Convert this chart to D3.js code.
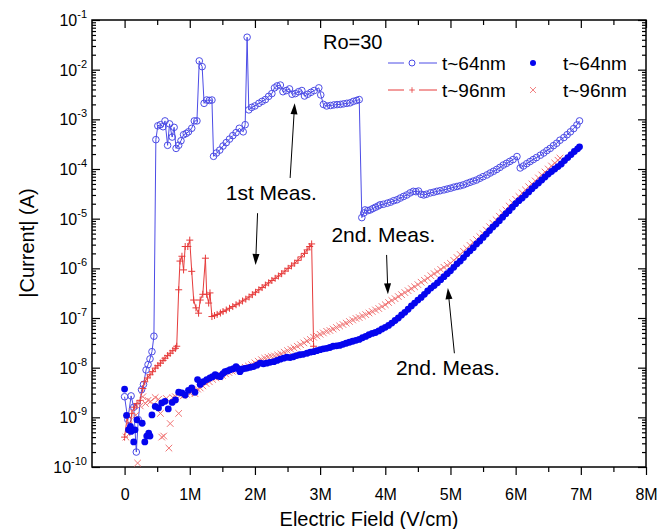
<!DOCTYPE html>
<html>
<head>
<meta charset="utf-8">
<script src="https://cdn.jsdelivr.net/npm/d3@7"></script>
<style>
body{margin:0;background:#fff;}
svg{display:block;font-family:"Liberation Sans",Arial,sans-serif;}
</style>
</head>
<body>
<svg id="chart" width="667" height="529"></svg>
<script>
// field in MV/cm (labelled "1M" etc), current in A
const fieldTicks = [0, 1, 2, 3, 4, 5, 6, 7, 8];
const fieldMinor = [0.5, 1.5, 2.5, 3.5, 4.5, 5.5, 6.5, 7.5];
const fieldLabels = ["0", "1M", "2M", "3M", "4M", "5M", "6M", "7M", "8M"];
const currentTicks = [1e-10, 1e-9, 1e-8, 1e-7, 1e-6, 1e-5, 1e-4, 1e-3, 1e-2, 1e-1];
const currentExps = ["-10", "-9", "-8", "-7", "-6", "-5", "-4", "-3", "-2", "-1"];

// t~64nm, 1st measurement (open circles + line)
const t64First = [
  [0.00,2.6e-9],[0.05,9e-10],[0.10,2.7e-9],[0.14,1.6e-9],[0.18,2.0e-10],[0.21,9e-10],[0.26,3.6e-9],
  [0.29,4.6e-9],[0.33,9e-9],[0.36,1.15e-8],[0.39,1.5e-8],[0.42,2.1e-8],[0.45,4.3e-8],
  [0.48,3.9e-4],[0.51,7.4e-4],[0.55,7.8e-4],[0.59,7.1e-4],[0.62,9.3e-4],[0.66,3.0e-4],[0.69,8.1e-4],
  [0.73,4.4e-4],[0.76,6.9e-4],[0.79,2.6e-4],[0.83,3.0e-4],[0.865,3.7e-4],[0.905,4.9e-4],[0.946,5.2e-4],
  [0.98,5.6e-4],[1.03,6.6e-4],[1.07,9.3e-4],[1.11,9.3e-4],[1.146,1.5e-2],[1.19,1.15e-2],[1.22,2.1e-3],
  [1.26,2.45e-3],[1.30,2.4e-3],[1.34,2.45e-3],[1.365,1.8e-4],[1.41,2.1e-4],[1.46,2.4e-4],[1.51,2.9e-4],
  [1.56,3.4e-4],[1.61,4.0e-4],[1.66,4.7e-4],[1.71,5.4e-4],[1.76,6.6e-4],[1.82,5.6e-4],[1.85,7.8e-4],
  [1.88,4.5e-2],[1.906,1.55e-3],[1.95,1.74e-3],[2.00,1.86e-3],[2.06,2.1e-3],[2.11,2.3e-3],[2.16,2.5e-3],
  [2.21,2.9e-3],[2.26,3.3e-3],[2.30,4.3e-3],[2.34,4.7e-3],[2.39,4.9e-3],[2.43,3.6e-3],[2.48,3.8e-3],
  [2.53,4.1e-3],[2.57,3.2e-3],[2.62,3.3e-3],[2.67,3.6e-3],[2.72,3.8e-3],[2.76,2.95e-3],[2.81,3.2e-3],
  [2.86,3.5e-3],[2.91,3.8e-3],[2.98,4.3e-3],[3.01,3.1e-3],[3.05,2.0e-3],[3.10,1.86e-3],[3.16,1.9e-3],
  [3.21,1.95e-3],[3.26,1.98e-3],[3.31,2.0e-3],[3.36,2.05e-3],[3.41,2.1e-3],[3.46,2.15e-3],[3.51,2.3e-3],
  [3.56,2.4e-3],[3.60,2.5e-3],
  [3.64,1.05e-5],[3.67,1.3e-5],[3.69,1.5e-5],[3.73,1.45e-5],[3.77,1.5e-5],[3.81,1.6e-5],[3.85,1.7e-5],
  [3.89,1.8e-5],[3.92,1.9e-5],[3.97,1.95e-5],[4.03,2.05e-5],[4.08,2.15e-5],[4.13,2.3e-5],[4.18,2.4e-5],
  [4.23,2.6e-5],[4.28,2.8e-5],[4.33,3.0e-5],[4.38,3.3e-5],[4.43,3.55e-5],[4.47,3.5e-5],[4.51,3.6e-5],
  [4.55,3.1e-5],[4.59,3.0e-5],[4.63,3.1e-5],[4.69,3.3e-5],[4.74,3.4e-5],[4.79,3.55e-5],[4.84,3.65e-5],
  [4.90,3.8e-5],[4.95,3.95e-5],[5.00,4.1e-5],[5.05,4.3e-5],[5.10,4.45e-5],[5.15,4.6e-5],[5.20,4.8e-5],
  [5.25,5.1e-5],[5.30,5.4e-5],[5.35,5.7e-5],[5.40,6.0e-5],[5.45,6.5e-5],[5.50,7.0e-5],[5.56,7.6e-5],
  [5.61,8.3e-5],[5.66,9.0e-5],[5.71,9.8e-5],[5.76,1.08e-4],[5.81,1.2e-4],[5.86,1.3e-4],[5.91,1.42e-4],
  [5.96,1.55e-4],[6.02,1.78e-4],
  [6.07,1.05e-4],[6.12,1.15e-4],[6.17,1.28e-4],[6.22,1.41e-4],[6.27,1.55e-4],[6.32,1.7e-4],[6.38,1.9e-4],
  [6.43,2.1e-4],[6.48,2.35e-4],[6.53,2.6e-4],[6.58,2.95e-4],[6.63,3.3e-4],[6.68,3.8e-4],[6.74,4.3e-4],
  [6.79,4.9e-4],[6.84,5.6e-4],[6.89,6.5e-4],[6.94,7.7e-4],[6.98,9.3e-4]
];

// t~96nm, 1st measurement (plus + line)
const t96First = [
  [0.00,4e-10],[0.04,1.0e-9],[0.08,5e-10],[0.11,1.2e-9],[0.15,1.6e-9],[0.19,1.9e-9],[0.24,2.2e-9],
  [0.28,3.8e-9],[0.31,5.2e-9],[0.35,6.2e-9],[0.39,7.2e-9],[0.43,8.3e-9],[0.47,9.8e-9],[0.51,1.1e-8],
  [0.55,1.23e-8],[0.59,1.4e-8],[0.62,1.55e-8],[0.66,1.75e-8],[0.70,1.95e-8],[0.74,2.2e-8],[0.78,2.45e-8],
  [0.80,2.7e-8],
  [0.83,3.7e-7],[0.85,1.4e-6],[0.88,1.75e-6],[0.905,9.3e-7],[0.93,2.75e-6],[0.97,2.75e-6],[1.00,3.7e-6],
  [1.03,8.7e-7],[1.06,2.3e-7],[1.095,1.6e-7],[1.135,1.25e-7],[1.16,2.3e-7],[1.20,3.0e-7],[1.24,1.6e-6],
  [1.26,3.0e-7],[1.29,2.0e-7],[1.31,3.2e-7],[1.34,1.07e-7],
  [1.38,1.12e-7],[1.42,1.18e-7],[1.47,1.26e-7],[1.51,1.35e-7],[1.56,1.45e-7],[1.61,1.57e-7],[1.66,1.7e-7],
  [1.71,1.85e-7],[1.76,2.0e-7],[1.81,2.2e-7],[1.86,2.4e-7],[1.91,2.65e-7],[1.96,2.95e-7],[2.01,3.3e-7],
  [2.06,3.7e-7],[2.11,4.1e-7],[2.16,4.6e-7],[2.21,5.1e-7],[2.26,5.7e-7],[2.31,6.3e-7],[2.36,7.0e-7],
  [2.41,7.8e-7],[2.46,8.8e-7],[2.51,1.0e-6],[2.56,1.12e-6],[2.61,1.27e-6],[2.66,1.45e-6],[2.71,1.7e-6],
  [2.76,2.0e-6],[2.80,2.35e-6],[2.84,2.75e-6],[2.87,3.1e-6],
  [2.90,2.7e-8]
];

// t~64nm, 2nd measurement (filled dots)
const t64Second = [
  [0.00,3.7e-9],[0.03,1.1e-9],[0.06,5.6e-10],[0.09,6.6e-10],[0.10,5.2e-10],[0.14,3.2e-10],[0.16,5.6e-10],
  [0.19,8.9e-10],[0.27,7.6e-10],[0.31,3.2e-10],[0.34,4.2e-10],[0.37,4.8e-10],[0.39,4.2e-10],[0.42,1.12e-9],
  [0.47,1.66e-9],[0.52,1.55e-9],[0.57,1.95e-9],[0.62,2.1e-9],[0.67,1.48e-9],[0.73,2.0e-9],[0.78,2.24e-9],
  [0.83,3.2e-9],[0.88,3.1e-9],[0.93,2.8e-9],[0.98,3.5e-9],[1.03,3.9e-9],[1.08,3.2e-9],[1.12,5.75e-9],
  [1.16,4.6e-9],[1.21,5.2e-9],[1.26,5.75e-9],[1.31,6.2e-9],[1.35,6.6e-9],[1.39,7.2e-9],[1.43,6.8e-9],
  [1.47,6.6e-9],[1.51,7.6e-9],[1.54,8.3e-9],[1.58,8.6e-9],[1.62,9.1e-9],[1.67,9.5e-9],[1.71,1.05e-8],
  [1.74,9.6e-9],[1.77,8.3e-9],[1.81,9.4e-9],[1.85,9.7e-9],[1.88,9.8e-9],[1.93,1.02e-8],[1.98,1.05e-8],
  [2.03,1.12e-8],[2.08,1.23e-8],[2.13,1.2e-8],[2.18,1.23e-8],[2.23,1.28e-8],[2.29,1.32e-8],[2.34,1.4e-8],
  [2.39,1.48e-8],[2.44,1.55e-8],[2.49,1.62e-8],[2.54,1.6e-8],[2.59,1.66e-8],[2.64,1.75e-8],[2.69,1.82e-8],
  [2.74,1.86e-8],[2.80,1.95e-8],[2.85,2.05e-8],[2.90,2.1e-8],[2.95,2.2e-8],[3.00,2.3e-8],[3.05,2.4e-8],
  [3.10,2.45e-8],[3.15,2.55e-8],[3.20,2.7e-8],[3.25,2.75e-8],[3.30,2.8e-8],[3.35,2.95e-8],[3.40,3.1e-8],
  [3.45,3.25e-8],[3.50,3.4e-8],[3.55,3.55e-8],[3.60,3.7e-8],[3.65,4.0e-8],[3.70,4.25e-8],[3.75,4.6e-8],
  [3.80,4.9e-8],[3.85,5.1e-8],[3.90,5.5e-8],[3.95,6.0e-8],[4.00,6.5e-8],[4.05,7.1e-8],[4.10,7.9e-8],
  [4.15,8.9e-8],[4.20,1.0e-7],[4.25,1.15e-7],[4.30,1.3e-7],[4.35,1.5e-7],[4.40,1.75e-7],[4.45,2.0e-7],
  [4.50,2.3e-7],[4.55,2.6e-7],[4.60,3.0e-7],[4.65,3.5e-7],[4.70,4.0e-7],[4.75,4.5e-7],[4.80,5.1e-7],
  [4.85,5.9e-7],[4.90,6.8e-7],[4.95,7.8e-7],[5.00,8.9e-7],[5.05,1.05e-6],[5.10,1.23e-6],[5.15,1.4e-6],
  [5.20,1.65e-6],[5.25,1.95e-6],[5.30,2.25e-6],[5.35,2.6e-6],[5.40,3.1e-6],[5.45,3.55e-6],[5.50,4.2e-6],
  [5.55,4.9e-6],[5.60,5.75e-6],[5.65,6.8e-6],[5.70,7.8e-6],[5.75,9.1e-6],[5.80,1.07e-5],[5.85,1.26e-5],
  [5.90,1.45e-5],[5.95,1.7e-5],[6.00,2.0e-5],[6.05,2.3e-5],[6.10,2.6e-5],[6.15,3.0e-5],[6.20,3.45e-5],
  [6.25,4.0e-5],[6.30,4.6e-5],[6.35,5.25e-5],[6.40,6.0e-5],[6.45,6.9e-5],[6.50,7.9e-5],[6.55,8.9e-5],
  [6.60,1.0e-4],[6.65,1.12e-4],[6.70,1.26e-4],[6.75,1.48e-4],[6.80,1.7e-4],[6.85,1.95e-4],[6.90,2.25e-4],
  [6.95,2.55e-4],[6.98,2.8e-4]
];

// t~96nm, 2nd measurement (crosses)
const t96Second = [
  [0.02,4.0e-10],[0.07,7e-10],[0.12,1.3e-9],[0.17,1.1e-9],[0.20,1.2e-10],[0.24,1.7e-9],[0.28,2.6e-9],
  [0.32,1.9e-9],[0.36,2.2e-9],[0.40,2.1e-9],[0.47,2.5e-9],[0.52,2.3e-9],[0.55,1.2e-9],[0.57,4.0e-10],
  [0.60,4.2e-10],[0.64,2.4e-9],[0.68,2.4e-10],[0.70,7.5e-10],[0.74,2.5e-9],[0.78,2.6e-9],[0.83,1.2e-9],
  [0.86,2.8e-9],[0.90,2.7e-9],[0.95,2.9e-9],[1.00,3.1e-9],[1.04,3.3e-9],[1.08,3.0e-9],[1.12,3.7e-9],
  [1.16,3.9e-9],[1.20,4.3e-9],[1.25,4.8e-9],[1.30,5.2e-9],[1.35,5.8e-9],[1.40,6.2e-9],[1.45,6.6e-9],
  [1.50,7.0e-9],[1.55,7.5e-9],[1.60,8.0e-9],[1.65,8.5e-9],[1.70,8.9e-9],[1.75,9.3e-9],[1.80,9.7e-9],
  [1.85,1.02e-8],[1.90,1.08e-8],[1.95,1.15e-8],[2.00,1.25e-8],[2.05,1.35e-8],[2.10,1.45e-8],[2.15,1.55e-8],
  [2.20,1.62e-8],[2.25,1.68e-8],[2.30,1.72e-8],[2.35,1.8e-8],[2.40,1.9e-8],[2.45,2.05e-8],[2.50,2.2e-8],
  [2.55,2.35e-8],[2.60,2.5e-8],[2.65,2.7e-8],[2.70,2.9e-8],[2.75,3.15e-8],[2.80,3.45e-8],[2.85,3.7e-8],
  [2.90,4.1e-8],[2.95,4.35e-8],[3.00,4.7e-8],[3.05,5.0e-8],[3.10,5.4e-8],[3.15,5.6e-8],[3.20,6.0e-8],
  [3.25,6.45e-8],[3.30,6.9e-8],[3.35,7.4e-8],[3.40,7.9e-8],[3.45,8.5e-8],[3.50,9.1e-8],[3.55,9.8e-8],
  [3.60,1.02e-7],[3.65,1.1e-7],[3.70,1.17e-7],[3.75,1.26e-7],[3.80,1.35e-7],[3.85,1.45e-7],[3.90,1.55e-7],
  [3.95,1.7e-7],[4.00,1.85e-7],[4.05,2.05e-7],[4.10,2.25e-7],[4.15,2.45e-7],[4.20,2.7e-7],[4.25,2.95e-7],
  [4.30,3.25e-7],[4.35,3.55e-7],[4.40,3.9e-7],[4.45,4.25e-7],[4.50,4.7e-7],[4.55,5.25e-7],[4.60,5.75e-7],
  [4.65,6.3e-7],[4.70,7.1e-7],[4.75,7.8e-7],[4.80,8.5e-7],[4.85,9.5e-7],[4.90,1.05e-6],[4.95,1.15e-6],
  [5.00,1.26e-6],[5.05,1.45e-6],[5.10,1.65e-6],[5.15,1.9e-6],[5.20,2.2e-6],[5.25,2.5e-6],[5.30,2.9e-6],
  [5.35,3.3e-6],[5.40,3.8e-6],[5.45,4.35e-6],[5.50,5.0e-6],[5.55,5.9e-6],[5.60,6.9e-6],[5.65,8.1e-6],
  [5.70,9.5e-6],[5.75,1.12e-5],[5.80,1.3e-5],[5.85,1.5e-5],[5.90,1.8e-5],[5.95,2.1e-5],[6.00,2.45e-5],
  [6.05,2.8e-5],[6.10,3.3e-5],[6.15,3.8e-5],[6.20,4.4e-5],[6.25,5.0e-5],[6.30,5.75e-5],[6.35,6.6e-5],
  [6.40,7.6e-5],[6.45,8.7e-5],[6.50,1.0e-4],[6.55,1.15e-4],[6.60,1.32e-4],[6.65,1.5e-4],[6.68,1.66e-4]
];

// annotations: text anchor point and arrows, in data units
const notes = [
  {text: "1st Meas.", at: [2.25, 2.4e-5]},
  {text: "2nd. Meas.", at: [3.97, 3.4e-6]},
  {text: "2nd. Meas.", at: [4.96, 7.2e-9]}
];
const arrows = [
  {from: [2.54, 6.6e-5], to: [2.61, 2.1e-3]},
  {from: [2.04, 1.29e-5], to: [2.01, 1.17e-6]},
  {from: [4.02, 1.86e-6], to: [4.04, 3.0e-7]},
  {from: [5.06, 1.95e-8], to: [4.96, 4.0e-7]}
];

const blueLine = "#4c4ce6";
const blueDot = "#0505ee";
const red = "#e63b3b";
const redX = "#f07474";

const svg = d3.select("#chart");
svg.append("rect").attr("width", 667).attr("height", 529).attr("fill", "#fff");

const pLeft = 92, pRight = 646, pTop = 20, pBottom = 467;

const x = d3.scaleLinear([-0.5, 8], [pLeft, pRight]);
const y = d3.scaleLog([1e-10, 1e-1], [pBottom, pTop]);

const minorCurrent = [];
currentTicks.slice(0, -1).forEach(d => {
    for (let k = 2; k < 10; k++) minorCurrent.push(d * k);
});

// ticks
svg.append("g").attr("transform", `translate(0,${pBottom})`)
    .call(d3.axisBottom(x).tickValues(fieldTicks).tickSize(8).tickFormat((d, i) => fieldLabels[i]))
    .call(g => g.select(".domain").remove())
    .call(g => g.selectAll("text").attr("y", 33).attr("dy", 0).attr("font-size", 16).attr("fill", "#000"))
    .attr("font-family", null);
svg.append("g").attr("transform", `translate(0,${pBottom})`)
    .call(d3.axisBottom(x).tickValues(fieldMinor).tickSize(5).tickFormat(""))
    .call(g => g.select(".domain").remove());
svg.append("g").attr("transform", `translate(0,${pTop})`)
    .call(d3.axisTop(x).tickValues(fieldTicks).tickSize(-8).tickFormat(""))
    .call(g => g.select(".domain").remove());
svg.append("g").attr("transform", `translate(0,${pTop})`)
    .call(d3.axisTop(x).tickValues(fieldMinor).tickSize(-5).tickFormat(""))
    .call(g => g.select(".domain").remove());

svg.append("g").attr("transform", `translate(${pLeft},0)`)
    .call(d3.axisLeft(y).tickValues(currentTicks).tickSize(-8).tickFormat(""))
    .call(g => g.select(".domain").remove());
svg.append("g").attr("transform", `translate(${pLeft},0)`)
    .call(d3.axisLeft(y).tickValues(minorCurrent).tickSize(-4).tickFormat(""))
    .call(g => g.select(".domain").remove());
svg.append("g").attr("transform", `translate(${pRight},0)`)
    .call(d3.axisRight(y).tickValues(currentTicks).tickSize(-8).tickFormat(""))
    .call(g => g.select(".domain").remove());
svg.append("g").attr("transform", `translate(${pRight},0)`)
    .call(d3.axisRight(y).tickValues(minorCurrent).tickSize(-4).tickFormat(""))
    .call(g => g.select(".domain").remove());

svg.selectAll(".tick line").attr("stroke", "#000").attr("stroke-width", 1.2);

// y labels 10^n
const yLab = svg.append("g").selectAll("text")
    .data(currentTicks)
    .join("text")
    .attr("x", 87)
    .attr("y", d => y(d) + 6)
    .attr("text-anchor", "end")
    .attr("font-size", 16)
    .attr("fill", "#000");
yLab.append("tspan").text("10");
yLab.append("tspan").attr("dy", -8).attr("font-size", 11).text((d, i) => currentExps[i]);

// frame
svg.append("rect")
    .attr("x", pLeft).attr("y", pTop)
    .attr("width", pRight - pLeft).attr("height", pBottom - pTop)
    .attr("fill", "none").attr("stroke", "#000").attr("stroke-width", 1.5);

// axis titles
svg.append("text")
    .attr("transform", `translate(34,243) rotate(-90)`)
    .attr("text-anchor", "middle")
    .attr("font-size", 20)
    .text("|Current| (A)");
svg.append("text")
    .attr("x", 369).attr("y", 526)
    .attr("text-anchor", "middle")
    .attr("font-size", 20)
    .text("Electric Field (V/cm)");

// data
svg.append("clipPath").attr("id", "plotClip")
    .append("rect").attr("x", pLeft).attr("y", pTop).attr("width", pRight - pLeft).attr("height", pBottom - pTop);
const plot = svg.append("g").attr("clip-path", "url(#plotClip)");

const line = d3.line().x(d => x(d[0])).y(d => y(d[1]));
const plusPath = "M-3.5,0H3.5M0,-3.5V3.5";
const crossPath = "M-3.3,-3.3L3.3,3.3M-3.3,3.3L3.3,-3.3";

plot.append("path").datum(t64First)
    .attr("d", line).attr("fill", "none").attr("stroke", blueLine).attr("stroke-width", 1);
plot.selectAll(".c64a").data(t64First).join("circle")
    .attr("class", "c64a")
    .attr("cx", d => x(d[0])).attr("cy", d => y(d[1])).attr("r", 3.3)
    .attr("fill", "none").attr("stroke", blueLine).attr("stroke-width", 1);

plot.append("path").datum(t96First)
    .attr("d", line).attr("fill", "none").attr("stroke", red).attr("stroke-width", 1);
plot.selectAll(".p96a").data(t96First).join("path")
    .attr("class", "p96a")
    .attr("transform", d => `translate(${x(d[0])},${y(d[1])})`)
    .attr("d", plusPath).attr("fill", "none").attr("stroke", red).attr("stroke-width", 1);

plot.selectAll(".x96b").data(t96Second).join("path")
    .attr("class", "x96b")
    .attr("transform", d => `translate(${x(d[0])},${y(d[1])})`)
    .attr("d", crossPath).attr("fill", "none").attr("stroke", redX).attr("stroke-width", 1);

plot.selectAll(".d64b").data(t64Second).join("circle")
    .attr("class", "d64b")
    .attr("cx", d => x(d[0])).attr("cy", d => y(d[1])).attr("r", 3.4)
    .attr("fill", blueDot);

// annotations
svg.append("g").selectAll("text").data(notes).join("text")
    .attr("x", d => x(d.at[0])).attr("y", d => y(d.at[1]))
    .attr("text-anchor", "middle").attr("font-size", 21)
    .text(d => d.text);

arrows.forEach(a => {
    const x1 = x(a.from[0]), y1 = y(a.from[1]);
    const x2 = x(a.to[0]), y2 = y(a.to[1]);
    const ang = Math.atan2(y2 - y1, x2 - x1);
    const L = 11, W = 3.5;
    svg.append("line")
        .attr("x1", x1).attr("y1", y1)
        .attr("x2", x2 - Math.cos(ang) * L * 0.8).attr("y2", y2 - Math.sin(ang) * L * 0.8)
        .attr("stroke", "#000").attr("stroke-width", 1);
    const bx = x2 - Math.cos(ang) * L, by = y2 - Math.sin(ang) * L;
    svg.append("path")
        .attr("d", `M${x2},${y2}L${bx - Math.sin(ang) * W},${by + Math.cos(ang) * W}L${bx + Math.sin(ang) * W},${by - Math.cos(ang) * W}Z`)
        .attr("fill", "#000");
});

// legend
svg.append("text").attr("x", 323).attr("y", 49).attr("font-size", 20).text("Ro=30");
const leg = svg.append("g").attr("font-size", 19);
leg.append("path").attr("d", "M388,63H404M419,63H437").attr("stroke", blueLine);
leg.append("circle").attr("cx", 412).attr("cy", 63).attr("r", 3).attr("fill", "none").attr("stroke", blueLine);
leg.append("text").attr("x", 442).attr("y", 70).text("t~64nm");
leg.append("circle").attr("cx", 533).attr("cy", 63).attr("r", 3).attr("fill", blueDot);
leg.append("text").attr("x", 563).attr("y", 70).text("t~64nm");
leg.append("path").attr("d", "M388,90H404M419,90H437").attr("stroke", red);
leg.append("path").attr("transform", "translate(412,90) scale(0.8)").attr("d", plusPath).attr("stroke", red);
leg.append("text").attr("x", 442).attr("y", 97).text("t~96nm");
leg.append("path").attr("transform", "translate(533,90) scale(0.9)").attr("d", crossPath).attr("stroke", redX);
leg.append("text").attr("x", 563).attr("y", 97).text("t~96nm");
</script>
</body>
</html>
